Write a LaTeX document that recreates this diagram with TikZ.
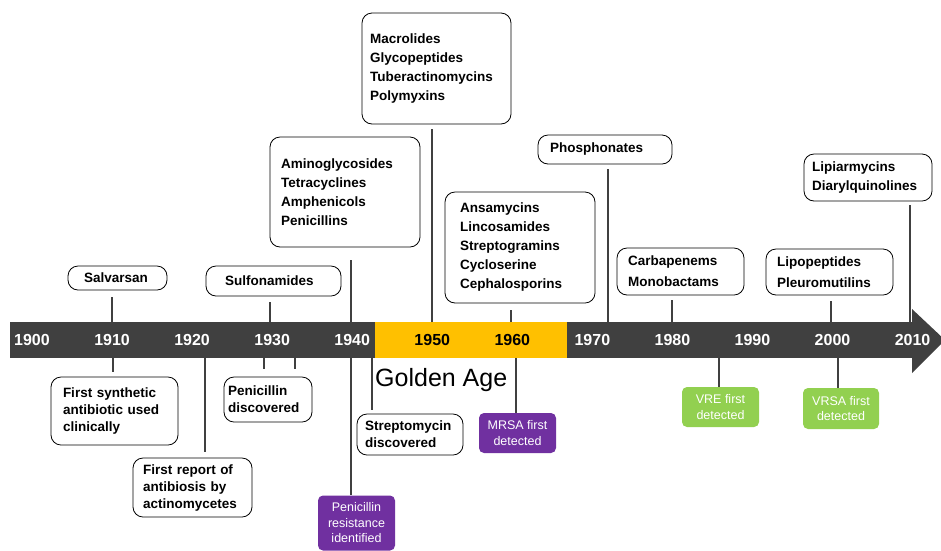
\documentclass[tikz,border=0pt]{standalone}
\usepackage{fontspec}
\setmainfont{Liberation Sans}
\definecolor{bargray}{HTML}{404040}
\definecolor{golden}{HTML}{FFC000}
\definecolor{resist}{HTML}{7030A0}
\definecolor{vgreen}{HTML}{92D050}
\tikzset{
  classbox/.style={draw, line width=.8pt, rounded corners=10pt, align=left, inner ysep=0pt,
    font=\bfseries\fontsize{13.5}{19}\selectfont},
  eventbox/.style={classbox, font=\bfseries\fontsize{13.5}{17}\selectfont},
  alertbox/.style={fill=#1, rounded corners=5pt, text=white, align=center, inner sep=0pt,
    font=\fontsize{12.5}{15.5}\selectfont},
  stem/.style={draw=bargray, line width=1.8pt},
  yearlbl/.style={font=\bfseries\fontsize{16}{16}\selectfont}
}
\begin{document}
\begin{tikzpicture}[x=1pt,y=-1pt]
  \useasboundingbox (0,0) rectangle (941,550);
  % time bar
  \fill[bargray] (10,322) rectangle (912,358);
  \fill[bargray] (912,309) -- (945,340) -- (912,373) -- cycle;
  \fill[golden] (375,322) rectangle (567,358);
  \foreach \yr/\col [count=\i from 0] in {1900/white,1910/white,1920/white,1930/white,1940/white,
      1950/black,1960/black,1970/white,1980/white,1990/white,2000/white,2010/white}
    \node[yearlbl, text=\col] (y\yr) at (32+80.05*\i,340) {\yr};
  \node[anchor=base west, inner sep=0pt, font=\fontsize{25}{25}\selectfont] (golden) at (375,386) {Golden Age};

  % drug classes above the bar
  \node[classbox, inner xsep=16pt, text width=67pt, minimum height=24pt] (salv) at (117.5,278) {Salvarsan};
  \node[classbox, inner xsep=19pt, text width=97pt, minimum height=30pt] (sulfo) at (273.5,281) {Sulfonamides};
  \node[classbox, inner xsep=11pt, text width=128pt, minimum height=110pt] (amino) at (345,192)
    {Aminoglycosides\\Tetracyclines\\Amphenicols\\Penicillins};
  \node[classbox, inner xsep=8pt, text width=133pt, minimum height=111pt] (macro) at (436.5,68.5)
    {Macrolides\\Glycopeptides\\Tuberactinomycins\\Polymyxins};
  \node[classbox, inner xsep=15pt, text width=120pt, minimum height=111pt] (ansa) at (520,247.5)
    {Ansamycins\\Lincosamides\\Streptogramins\\Cycloserine\\Cephalosporins};
  \node[classbox, inner xsep=12pt, text width=110pt, minimum height=29pt] (phos) at (605,149.5) {Phosphonates};
  \node[classbox, inner xsep=11pt, text width=105pt, minimum height=47pt,
    font=\bfseries\fontsize{13.5}{21}\selectfont] (carba) at (680.5,271.5) {Carbapenems\\Monobactams};
  \node[classbox, inner xsep=11pt, text width=105pt, minimum height=46pt,
    font=\bfseries\fontsize{13.5}{21}\selectfont] (lipo) at (829.5,272) {Lipopeptides\\Pleuromutilins};
  \node[classbox, inner xsep=8pt, text width=112pt, minimum height=47pt] (lipi) at (868,177.5)
    {Lipiarmycins\\Diarylquinolines};

  % events below the bar
  \node[eventbox, inner xsep=12pt, text width=103pt, minimum height=68pt] (synth) at (114.5,411)
    {First synthetic\\antibiotic used\\clinically};
  \node[eventbox, inner xsep=10pt, text width=99pt, minimum height=59pt] (report) at (192.5,487.5)
    {First report of\\antibiosis by\\actinomycetes};
  \node[eventbox, inner xsep=4pt, text width=80pt, minimum height=45pt] (pendisc) at (268,399.5)
    {Penicillin\\discovered};
  \node[eventbox, inner xsep=8pt, text width=90pt, minimum height=41pt] (strep) at (410,434.5)
    {Streptomycin\\discovered};
  \node[alertbox=resist, minimum width=77pt, minimum height=55pt] (penres) at (356.5,523)
    {Penicillin\\resistance\\identified};
  \node[alertbox=resist, minimum width=77pt, minimum height=40pt] (mrsa) at (517.5,433)
    {MRSA first\\detected};
  \node[alertbox=vgreen, minimum width=77pt, minimum height=40pt] (vre) at (720.5,407)
    {VRE first\\detected};
  \node[alertbox=vgreen, minimum width=76pt, minimum height=41pt] (vrsa) at (841,408.5)
    {VRSA first\\detected};

  % stems
  \coordinate (u1) at (112,322);
  \coordinate (u2) at (270,322);
  \coordinate (u3) at (351,322);
  \coordinate (u4) at (432,322);
  \coordinate (u5) at (511,322);
  \coordinate (u6) at (608,322);
  \coordinate (u7) at (672,322);
  \coordinate (u8) at (831,322);
  \coordinate (u9) at (910,322);
  \draw[stem] (u1) -- ([yshift=-7pt]salv.south -| u1);
  \draw[stem] (u2) -- ([yshift=-6pt]sulfo.south -| u2);
  \draw[stem] (u3) -- ([yshift=-13pt]amino.south -| u3);
  \draw[stem] (u4) -- ([yshift=-5pt]macro.south -| u4);
  \draw[stem] (u5) -- ([yshift=-7pt]ansa.south -| u5);
  \draw[stem] (u6) -- ([yshift=-5pt]phos.south -| u6);
  \draw[stem] (u7) -- ([yshift=-5pt]carba.south -| u7);
  \draw[stem] (u8) -- ([yshift=-6pt]lipo.south -| u8);
  \draw[stem] (u9) -- ([yshift=-4pt]lipi.south -| u9);

  \coordinate (d1) at (113,358);
  \coordinate (d2) at (205,358);
  \coordinate (d3) at (264,358);
  \coordinate (d4) at (295,358);
  \coordinate (d5) at (372,358);
  \coordinate (d6) at (351,358);
  \coordinate (d7) at (516,358);
  \coordinate (d8) at (719,358);
  \coordinate (d9) at (838,358);
  \draw[stem] (d1) -- ([yshift=5pt]synth.north -| d1);
  \draw[stem] (d2) -- ([yshift=6pt]report.north -| d2);
  \draw[stem] (d3) -- ([yshift=8pt]pendisc.north -| d3);
  \draw[stem] (d4) -- ([yshift=8pt]pendisc.north -| d4);
  \draw[stem] (d5) -- ([yshift=4pt]strep.north -| d5);
  \draw[stem] (d6) -- (penres.north -| d6);
  \draw[stem] (d7) -- (mrsa.north -| d7);
  \draw[stem] (d8) -- (vre.north -| d8);
  \draw[stem] (d9) -- (vrsa.north -| d9);
\end{tikzpicture}
\end{document}
